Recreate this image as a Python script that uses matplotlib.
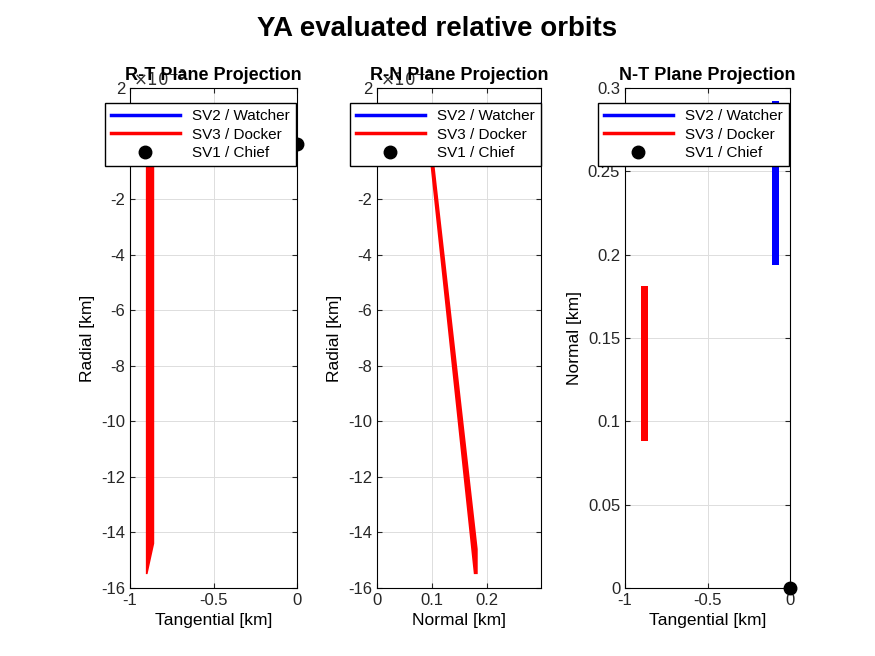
import matplotlib.pyplot as plt
from matplotlib.lines import Line2D

# ---------- DATA (radial in 1e-3 km) ----------
rt_red_x = [-0.905, -0.855, -0.855, -0.895, -0.905]
rt_red_y = [0.0, 0.0, -14.4, -15.5, -15.5]
rt_blue_x = [-0.06, -0.052, -0.052, -0.06]
rt_blue_y = [1.4, 1.4, -0.1, -0.1]

rn_red_x = [0.093, 0.100, 0.183, 0.183, 0.176]
rn_red_y = [0.0, 0.0, -14.6, -15.5, -15.5]
rn_blue_x = [0.28, 0.30, 0.30, 0.28]
rn_blue_y = [0.6, 1.6, 0.7, 0.4]

nt_red_x = [-0.905, -0.86, -0.86, -0.905]
nt_red_y = [0.088, 0.088, 0.181, 0.181]
nt_blue_x = [-0.11, -0.068, -0.068, -0.11]
nt_blue_y = [0.194, 0.194, 0.292, 0.292]

plt.rcParams['font.family'] = 'Liberation Sans'
plt.rcParams['axes.unicode_minus'] = False
fig = plt.figure(figsize=(8.75, 6.56), dpi=100)
W, H = 875, 656


def make_ax(l, r):
    return fig.add_axes([l / W, 1 - 588 / H, (r - l) / W, 500 / H])


def style(ax):
    ax.grid(True, color='#dddddd', linewidth=0.7)
    ax.set_axisbelow(True)
    ax.tick_params(direction='in', labelsize=12, top=True, right=True, colors='#262626')
    for s in ax.spines.values():
        s.set_linewidth(0.8)


handles = [Line2D([], [], color='blue', lw=2.5),
           Line2D([], [], color='red', lw=2.5),
           Line2D([], [], color='black', marker='o', ms=9, ls='none')]
labels = ['SV2 / Watcher', 'SV3 / Docker', 'SV1 / Chief']


def legend(ax, left_px, axl, axr):
    ax.legend(handles, labels, loc='upper left', fontsize=11, fancybox=False,
              edgecolor='black', framealpha=1, handlelength=4.5,
              bbox_to_anchor=((left_px - axl) / (axr - axl), 0.97),
              borderaxespad=0, labelspacing=0.3)


# R-T
ax1 = make_ax(130, 297)
ax1.fill(rt_red_x, rt_red_y, color='red', lw=0)
ax1.fill(rt_blue_x, rt_blue_y, color='blue', lw=0)
ax1.plot(0, 0, 'ko', ms=9, clip_on=False, zorder=5)
ax1.set_xlim(-1, 0)
ax1.set_ylim(-16, 2)
ax1.set_xticks([-1, -0.5, 0])
ax1.set_xticklabels(['-1', '-0.5', '0'])
ax1.set_yticks(range(-16, 3, 2))
ax1.set_xlabel('Tangential [km]', fontsize=12.5)
ax1.set_ylabel('Radial [km]', fontsize=12.5)
style(ax1)
ax1.set_title('R-T Plane Projection', fontsize=13, fontweight='bold', pad=6)
ax1.text(0.02, 1.005, r'$\times10^{-3}$', transform=ax1.transAxes, fontsize=12, color='#333333')
legend(ax1, 105, 130, 297)

# R-N
ax2 = make_ax(377, 541)
ax2.fill(rn_red_x, rn_red_y, color='red', lw=0)
ax2.fill(rn_blue_x, rn_blue_y, color='blue', lw=0)
ax2.set_xlim(0, 0.298)
ax2.set_ylim(-16, 2)
ax2.set_xticks([0, 0.1, 0.2])
ax2.set_xticklabels(['0', '0.1', '0.2'])
ax2.set_yticks(range(-16, 3, 2))
ax2.set_xlabel('Normal [km]', fontsize=12.5)
ax2.set_ylabel('Radial [km]', fontsize=12.5)
style(ax2)
ax2.set_title('R-N Plane Projection', fontsize=13, fontweight='bold', pad=6)
ax2.text(0.02, 1.005, r'$\times10^{-3}$', transform=ax2.transAxes, fontsize=12, color='#333333')
legend(ax2, 350, 377, 541)

# N-T
ax3 = make_ax(625, 790)
ax3.fill(nt_red_x, nt_red_y, color='red', lw=0)
ax3.fill(nt_blue_x, nt_blue_y, color='blue', lw=0)
ax3.plot(0, 0, 'ko', ms=9, clip_on=False, zorder=5)
ax3.set_xlim(-1, 0)
ax3.set_ylim(0, 0.3)
ax3.set_xticks([-1, -0.5, 0])
ax3.set_xticklabels(['-1', '-0.5', '0'])
ax3.set_yticks([0, 0.05, 0.1, 0.15, 0.2, 0.25, 0.3])
ax3.set_yticklabels(['0', '0.05', '0.1', '0.15', '0.2', '0.25', '0.3'])
ax3.set_xlabel('Tangential [km]', fontsize=12.5)
ax3.set_ylabel('Normal [km]', fontsize=12.5)
style(ax3)
ax3.set_title('N-T Plane Projection', fontsize=13, fontweight='bold', pad=6)
legend(ax3, 598, 625, 790)

fig.suptitle('YA evaluated relative orbits', fontsize=20, fontweight='bold', y=0.975)
fig.savefig('out.png', dpi=100)
